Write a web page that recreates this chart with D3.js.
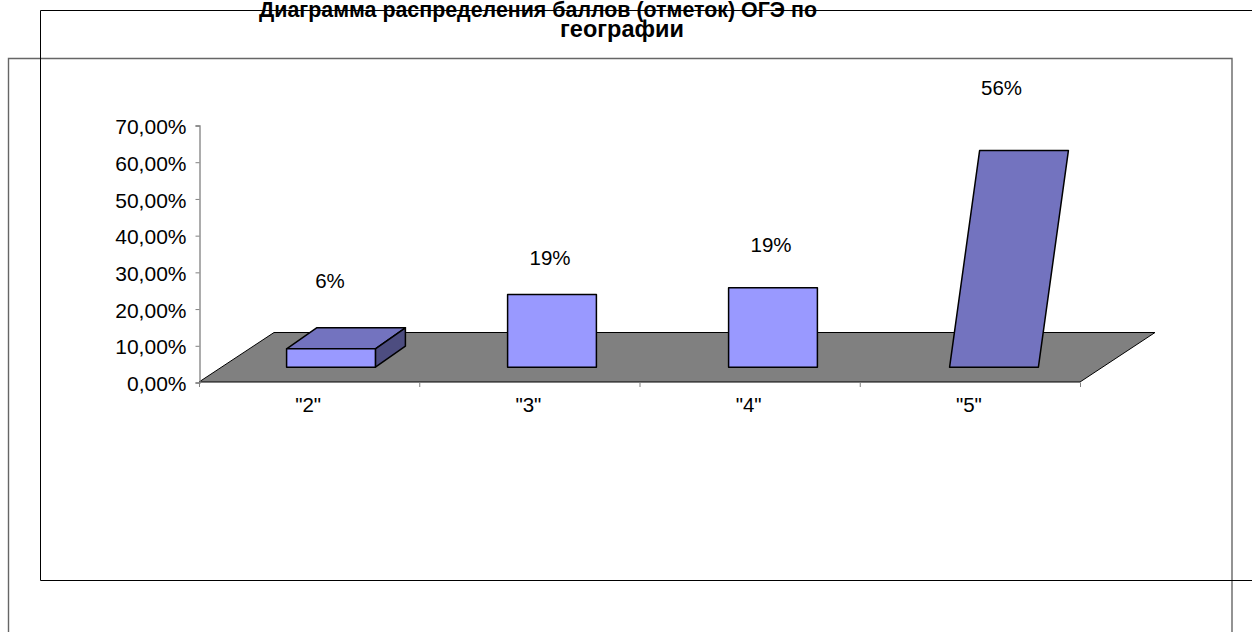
<!DOCTYPE html>
<html>
<head>
<meta charset="utf-8">
<script src="https://cdnjs.cloudflare.com/ajax/libs/d3/7.8.5/d3.min.js"></script>
<style>
html, body { margin: 0; padding: 0; background: #fff; overflow: hidden; }
text { font-family: "Liberation Sans", Arial, sans-serif; fill: #000; }
</style>
</head>
<body>
<div id="visualization"></div>
<script>
const categories = ['"2"', '"3"', '"4"', '"5"'];
// bar heights as drawn, they do not agree with the printed labels
const barValues = [5.0, 19.8, 21.6, 59.0];
const barLabels = ["6%", "19%", "19%", "56%"];
const labelValues = [25.6, 32, 35.4, 78.2];
const tickValues = [0, 10, 20, 30, 40, 50, 60, 70];
const titleLines = ["Диаграмма распределения баллов (отметок) ОГЭ по", "географии"];

const svg = d3
    .select("#visualization")
    .append("svg")
    .attr("width", 1252)
    .attr("height", 632);

// the two frames of the broken export
svg.append("path")
    .attr("d", "M8.5,640V58.5H1232V640")
    .attr("fill", "none")
    .attr("stroke", "#666")
    .attr("stroke-width", 1.4);
svg.append("path")
    .attr("d", "M1260,10.5H40.5V580.5H1260")
    .attr("fill", "none")
    .attr("stroke", "#000")
    .attr("stroke-width", 1);

const y = d3.scaleLinear().domain([0, 70]).range([382, 125]);
const x = d3.scaleBand().domain(categories).range([199, 1080]);
// bars sit a little wider apart than the axis bands
const barX = d3.scaleBand().domain(categories).range([198, 1082]);
const floorDx = 75;
const floorDy = 49.5;
const barWidth = 88.8;

// point on the floor, depth goes 0 (front) to 1 (back)
function px(xVal, depth) { return xVal + depth * floorDx; }
function py(yVal, depth) { return yVal - depth * floorDy; }

const line = d3.line();

// floor
svg.append("path")
    .attr("d", line([
        [px(x.range()[0], 0), py(y(0), 0)],
        [px(x.range()[1], 0), py(y(0), 0)],
        [px(x.range()[1], 1), py(y(0), 1)],
        [px(x.range()[0], 1), py(y(0), 1)]
    ]) + "Z")
    .attr("fill", "#808080")
    .attr("stroke", "#000")
    .attr("stroke-width", 1);

// axes
const yAxis = d3.axisLeft(y)
    .tickValues(tickValues)
    .tickSize(4)
    .tickPadding(9)
    .tickFormat(d => d3.format(".2f")(d).replace(".", ",") + "%");
const yAxisG = svg.append("g")
    .attr("transform", "translate(199.5,0.5)")
    .call(yAxis);

const xAxis = d3.axisBottom(x)
    .tickSize(0)
    .tickPadding(15);
const xAxisG = svg.append("g")
    .attr("transform", "translate(-1,382.5)")
    .call(xAxis);
xAxisG.select(".domain").remove();

svg.append("g")
    .selectAll("line")
    .data(categories.concat("end"))
    .enter()
    .append("line")
    .attr("x1", d => d === "end" ? x.range()[1] + 0.5 : x(d) + 0.5)
    .attr("x2", d => d === "end" ? x.range()[1] + 0.5 : x(d) + 0.5)
    .attr("y1", 382.5)
    .attr("y2", 387)
    .attr("stroke", "#808080");

[yAxisG, xAxisG].forEach(g => {
    g.selectAll("text")
        .attr("font-family", '"Liberation Sans", Arial, sans-serif')
        .attr("font-size", 20.5);
    g.select(".domain").attr("stroke", "#808080").attr("stroke-width", 1.3);
    g.selectAll(".tick line").attr("stroke", "#808080");
});
yAxisG.selectAll("text").attr("font-size", 21).attr("dy", "0.39em");

// bars stand at 0.3 of the floor depth, back face at 0.7
const front = 0.3;
const back = 0.7;
const bars = svg.append("g").attr("stroke", "#000").attr("stroke-width", 1.5).attr("stroke-linejoin", "round");

categories.forEach((c, i) => {
    const left = px(barX(c) + (barX.bandwidth() - barWidth) / 2, front);
    const right = left + barWidth;
    const base = py(y(0), front);
    const h = y(0) - y(barValues[i]);
    const top = base - h;
    const dx = (back - front) * floorDx;
    const dy = (back - front) * floorDy + 1.2;

    if (i === 0) {
        bars.append("path")
            .attr("fill", "#7373bf")
            .attr("d", line([[left, top], [right, top], [right + dx, top - dy], [left + dx, top - dy]]) + "Z");
        bars.append("path")
            .attr("fill", "#4d4d80")
            .attr("d", line([[right, top], [right + dx, top - dy], [right + dx, base - dy], [right, base]]) + "Z");
        bars.append("path")
            .attr("fill", "#9999ff")
            .attr("d", line([[left, top], [right, top], [right, base], [left, base]]) + "Z");
    } else if (i === 3) {
        bars.append("path")
            .attr("fill", "#7373bf")
            .attr("d", line([[left, base], [right, base], [right + dx, top], [left + dx, top]]) + "Z");
    } else {
        bars.append("path")
            .attr("fill", "#9999ff")
            .attr("d", line([[left, top], [right, top], [right, base], [left, base]]) + "Z");
    }

    svg.append("text")
        .attr("x", left + barWidth / 2 + [-1, -2, -2, 7.5][i])
        .attr("y", y(labelValues[i]))
        .attr("text-anchor", "middle")
        .attr("font-size", 20.5)
        .text(barLabels[i]);
});

// title, the lines are not centred on each other in the reference
svg.append("g")
    .selectAll("text")
    .data(titleLines)
    .enter()
    .append("text")
    .attr("x", (d, i) => i === 0 ? 538 : 622)
    .attr("y", (d, i) => 17 + i * 20)
    .attr("text-anchor", "middle")
    .attr("font-size", (d, i) => i === 0 ? 21.4 : 23.5)
    .attr("font-weight", "bold")
    .text(d => d);
</script>
</body>
</html>
